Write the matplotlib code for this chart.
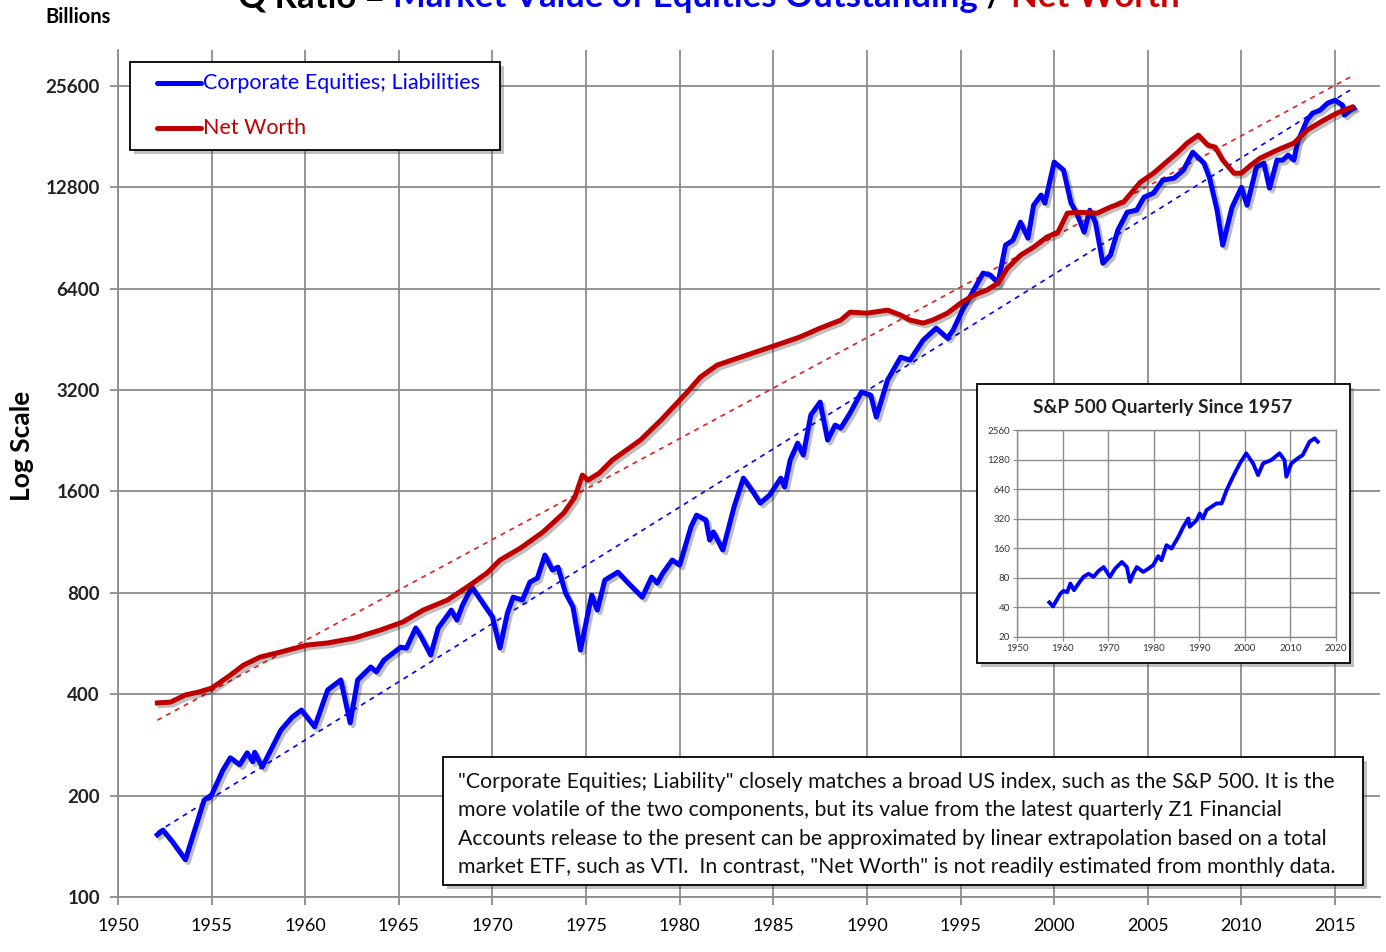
import matplotlib
matplotlib.use("Agg")
import matplotlib.pyplot as plt
import matplotlib.patheffects as pe
from matplotlib.patches import Rectangle
from matplotlib.lines import Line2D

plt.rcParams['font.family'] = ['Lato', 'DejaVu Sans']

# Corporate Equities; Liabilities (billions)
blue_years = [1952.1, 1952.4, 1952.9, 1953.6, 1954.6, 1955.0, 1955.6, 1956.0, 1956.5, 1956.9,
              1957.2, 1957.3, 1957.7, 1958.7, 1959.3, 1959.8, 1960.5, 1961.2, 1961.9, 1962.4,
              1962.8, 1963.5, 1963.8, 1964.2, 1965.1, 1965.4, 1965.9, 1966.2, 1966.7, 1967.1,
              1967.8, 1968.1, 1968.4, 1968.9, 1970.0, 1970.4, 1970.8, 1971.1, 1971.6, 1972.0,
              1972.4, 1972.8, 1973.2, 1973.5, 1973.9, 1974.3, 1974.7, 1975.1, 1975.3, 1975.6,
              1976.0, 1976.7, 1977.2, 1978.0, 1978.5, 1978.8, 1979.1, 1979.6, 1980.0, 1980.6,
              1980.9, 1981.4, 1981.6, 1981.8, 1982.3, 1982.9, 1983.4, 1983.9, 1984.3, 1984.8,
              1985.4, 1985.6, 1985.9, 1986.3, 1986.6, 1987.0, 1987.5, 1987.9, 1988.3, 1988.6,
              1989.1, 1989.7, 1990.2, 1990.5, 1991.1, 1991.8, 1992.3, 1993.0, 1993.7, 1994.3,
              1994.6, 1995.1, 1995.7, 1996.2, 1996.6, 1997.0, 1997.4, 1997.8, 1998.2, 1998.6,
              1998.9, 1999.3, 1999.5, 2000.0, 2000.5, 2000.9, 2001.2, 2001.6, 2001.9, 2002.2,
              2002.6, 2003.0, 2003.4, 2003.9, 2004.4, 2004.8, 2005.3, 2005.8, 2006.4, 2006.9,
              2007.4, 2008.0, 2008.3, 2008.7, 2009.0, 2009.5, 2010.0, 2010.3, 2010.8, 2011.2,
              2011.5, 2011.9, 2012.2, 2012.5, 2012.8, 2013.0, 2013.5, 2013.8, 2014.2, 2014.6,
              2015.0, 2015.4, 2015.5, 2015.8, 2016.0]
blue_vals = [153, 158, 146, 129, 194, 201, 238, 259, 247, 268,
             252, 269, 243, 313, 342, 359, 320, 412, 441, 329,
             441, 482, 466, 505, 552, 548, 629, 591, 523, 629,
             711, 664, 736, 832, 678, 549, 697, 777, 762, 861,
             885, 1036, 935, 954, 800, 726, 541, 697, 788, 711,
             873, 922, 861, 777, 891, 855, 916, 1001, 968, 1255,
             1361, 1316, 1148, 1213, 1072, 1438, 1753, 1600, 1478, 1561,
             1753, 1649, 1983, 2227, 2052, 2697, 2948, 2274, 2519, 2468,
             2735, 3156, 3092, 2661, 3427, 4009, 3929, 4503, 4888, 4566,
             4823, 5529, 6338, 7122, 7024, 6650, 8622, 8920, 10090, 9044,
             11330, 12140, 11490, 15210, 14400, 11490, 10730, 9420, 10950, 10090,
             7622, 8050, 9550, 10800, 10950, 11970, 12300, 13450, 13630, 14400,
             16280, 15100, 13630, 10950, 8622, 11180, 12800, 11330, 14700, 15100,
             12730, 15420, 15420, 15960, 15420, 17440, 20270, 21260, 21690, 22760,
             23230, 22450, 20970, 21690, 21990]

# Net Worth (billions)
red_years = [1952.1, 1952.8, 1953.6, 1954.3, 1955.0, 1955.4, 1956.0, 1956.7, 1957.6, 1958.7,
             1960.1, 1961.2, 1962.6, 1964.0, 1965.2, 1966.3, 1967.6, 1968.8, 1969.7, 1970.4,
             1971.5, 1972.7, 1973.8, 1974.4, 1974.8, 1975.1, 1975.7, 1976.4, 1977.9, 1979.0,
             1979.9, 1980.4, 1981.1, 1982.0, 1983.1, 1985.0, 1986.4, 1987.5, 1988.6, 1989.1,
             1990.0, 1991.1, 1991.8, 1992.3, 1993.0, 1993.5, 1994.3, 1995.0, 1995.7, 1996.4,
             1997.0, 1997.5, 1998.2, 1998.9, 1999.6, 2000.2, 2000.7, 2001.2, 2002.3, 2003.0,
             2003.7, 2004.6, 2005.3, 2005.8, 2006.6, 2007.1, 2007.7, 2008.2, 2008.6, 2009.0,
             2009.6, 2010.0, 2010.5, 2011.0, 2011.9, 2012.8, 2013.5, 2014.4, 2015.1, 2015.9]
red_vals = [377, 379, 398, 406, 417, 432, 456, 488, 516, 534,
            560, 568, 587, 620, 655, 711, 762, 844, 916, 1001,
            1087, 1213, 1380, 1540, 1790, 1729, 1814, 1983, 2274, 2607,
            2948, 3156, 3498, 3797, 3983, 4323, 4597, 4888, 5164, 5453,
            5416, 5529, 5344, 5164, 5060, 5164, 5416, 5800, 6126, 6338,
            6650, 7367, 8050, 8505, 9107, 9420, 10730, 10800, 10730, 11180,
            11570, 13260, 14100, 14900, 16280, 17320, 18290, 17080, 16850, 15420,
            14100, 14100, 14900, 15630, 16510, 17320, 18920, 20270, 21260, 22150]

# exponential trend lines (end points)
trend_years = [1952.1, 2015.8]
net_worth_trend = [335, 27190]
equities_trend = [156, 24880]

# S&P 500 quarterly (inset)
sp_years = [1957.1, 1957.9, 1959.5, 1960.2, 1961.0, 1961.7, 1962.5, 1963.5, 1964.6, 1965.7,
            1966.8, 1967.9, 1969.0, 1970.4, 1971.5, 1973.0, 1974.1, 1974.8, 1975.5, 1976.3,
            1977.7, 1978.8, 1979.9, 1981.0, 1981.7, 1982.8, 1983.9, 1985.4, 1986.5, 1987.6,
            1987.9, 1989.4, 1990.1, 1990.8, 1991.6, 1993.8, 1994.9, 1996.0, 1997.4, 1998.9,
            2000.3, 2001.8, 2002.9, 2004.0, 2005.8, 2007.6, 2008.7, 2009.1, 2010.2, 2011.6,
            2012.7, 2014.2, 2015.3, 2016.0]
sp_vals = [45, 41, 55, 59, 57, 70, 60, 70, 82, 88,
           82, 94, 103, 82, 99, 116, 103, 73, 88, 103,
           92, 99, 108, 133, 121, 172, 159, 209, 265, 322,
           265, 309, 362, 322, 392, 458, 458, 626, 856, 1170,
           1481, 1170, 890, 1170, 1266, 1481, 1266, 856, 1170, 1316,
           1424, 1946, 2106, 1946]

y_ticks = [100, 200, 400, 800, 1600, 3200, 6400, 12800, 25600]
x_ticks = list(range(1950, 2016, 5))
inset_y_ticks = [20, 40, 80, 160, 320, 640, 1280, 2560]
inset_x_ticks = list(range(1950, 2021, 10))

BLUE = '#0000FF'
RED = '#C00000'
GRID = '#8c8c8c'

W, H = 1386, 952
fig = plt.figure(figsize=(W / 100, H / 100), dpi=100)
ax = fig.add_axes([118 / W, 1 - 897 / H, (1380 - 118) / W, (897 - 50) / H])

shadow = [pe.SimpleLineShadow(offset=(2, -2), shadow_color='k', alpha=0.25), pe.Normal()]

ax.plot(trend_years, net_worth_trend, color='#E02020', lw=1.2, ls=(0, (3, 3)), zorder=2)
ax.plot(trend_years, equities_trend, color=BLUE, lw=1.2, ls=(0, (3, 3)), zorder=2)
l1, = ax.plot(blue_years, blue_vals, color=BLUE, lw=3.6, solid_joinstyle='round',
              path_effects=shadow, zorder=3, label='Corporate Equities; Liabilities')
l2, = ax.plot(red_years, red_vals, color=RED, lw=3.6, solid_joinstyle='round',
              path_effects=shadow, zorder=4, label='Net Worth')

ax.set_yscale('log', base=2)
ax.set_ylim(100, 32740)
ax.set_xlim(1950, 2017.4)
ax.set_yticks(y_ticks, [str(v) for v in y_ticks])
ax.minorticks_off()
ax.set_xticks(x_ticks)
ax.grid(True, color=GRID, lw=1.3)
ax.set_axisbelow(True)
for s in ['top', 'right']:
    ax.spines[s].set_visible(False)
for s in ['left', 'bottom']:
    ax.spines[s].set_color(GRID)
    ax.spines[s].set_linewidth(1.3)
ax.tick_params(axis='both', direction='out', length=6, color=GRID, width=1.3)
ax.tick_params(axis='y', labelsize=13.5, pad=7)
ax.tick_params(axis='x', labelsize=13, pad=9)
for t in ax.get_yticklabels():
    t.set_fontweight('bold')
    t.set_color('#222222')

box_fx = [pe.SimplePatchShadow(offset=(3, -3), alpha=0.35), pe.Normal()]

# legend box
fig.add_artist(Rectangle((130 / W, 1 - 150 / H), (500 - 130) / W, (150 - 62) / H,
                         transform=fig.transFigure, facecolor='white', edgecolor='black',
                         lw=1.3, zorder=5, path_effects=box_fx))
for line, yp in [(l1, 83), (l2, 128)]:
    fig.add_artist(Line2D([157 / W, 201 / W], [1 - yp / H, 1 - yp / H],
                          transform=fig.transFigure, color=line.get_color(), lw=3.6,
                          solid_capstyle='round', zorder=6))
    fig.text(203 / W, 1 - yp / H, line.get_label(), color=line.get_color(), fontsize=15.5,
             va='center', ha='left', zorder=6)

# title (partly cut off at the top edge, as in the source)
y_title = 1 - 7 / H
t0 = fig.text(238 / W, y_title, 'Q Ratio = ', fontsize=25, fontweight='bold',
              color='black', va='baseline')
prev = t0
for txt, col in [('Market Value of Equities Outstanding', '#0000EE'), (' / ', 'black'),
                 ('Net Worth', '#CC0000')]:
    prev = ax.annotate(txt, xy=(1, 0), xycoords=prev, va='bottom', ha='left',
                       fontsize=25, fontweight='bold', color=col, annotation_clip=False)

fig.text(45 / W, 1 - 17 / H, 'Billions', fontsize=14.5, fontweight='bold', va='center')
fig.text(22 / W, 1 - 446 / H, 'Log Scale', fontsize=19, fontweight='bold',
         rotation=90, va='center', ha='center')

# note box
fig.add_artist(Rectangle((443 / W, 1 - 885 / H), (1363 - 443) / W, (885 - 757) / H,
                         transform=fig.transFigure, facecolor='white', edgecolor='black',
                         lw=1.3, zorder=5, path_effects=box_fx))
note = ('"Corporate Equities; Liability" closely matches a broad US index, such as the S&P 500. It is the\n'
        'more volatile of the two components, but its value from the latest quarterly Z1 Financial\n'
        'Accounts release to the present can be approximated by linear extrapolation based on a total\n'
        'market ETF, such as VTI.  In contrast, "Net Worth" is not readily estimated from monthly data.')
fig.text(458 / W, 1 - 772 / H, note, fontsize=15.3, va='top', ha='left', linespacing=1.52,
         zorder=6, color='#111111')

# inset
fig.add_artist(Rectangle((977 / W, 1 - 663 / H), (1350 - 977) / W, (663 - 384) / H,
                         transform=fig.transFigure, facecolor='white', edgecolor='black',
                         lw=1.3, zorder=5, path_effects=box_fx))
fig.text(1163 / W, 1 - 407 / H, 'S&P 500 Quarterly Since 1957', fontsize=13.7,
         fontweight='bold', ha='center', va='center', zorder=6, color='#222222')

iax = fig.add_axes([1017 / W, 1 - 637 / H, (1336 - 1017) / W, (637 - 430) / H], zorder=7)
iax.plot(sp_years, sp_vals, color=BLUE, lw=2.8, solid_joinstyle='round')
iax.set_yscale('log', base=2)
iax.set_ylim(20, 2560)
iax.set_xlim(1950, 2020)
iax.set_yticks(inset_y_ticks, [str(v) for v in inset_y_ticks])
iax.minorticks_off()
iax.set_xticks(inset_x_ticks)
iax.grid(True, color=GRID, lw=1.0)
iax.set_axisbelow(True)
for s in iax.spines.values():
    s.set_color(GRID)
    s.set_linewidth(1.0)
iax.tick_params(axis='both', direction='out', length=3, color=GRID, labelsize=7,
                labelcolor='#333333', pad=2)

fig.savefig('out.png', dpi=100)
